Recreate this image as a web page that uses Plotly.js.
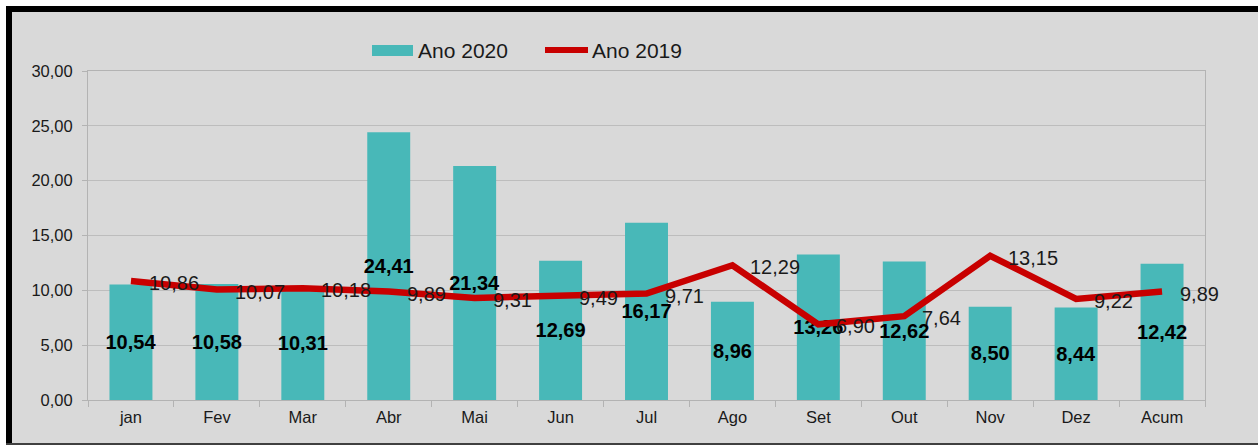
<!DOCTYPE html>
<html>
<head>
<meta charset="utf-8">
<script src="https://cdn.plot.ly/plotly-3.0.1.min.js"></script>
<style>
  html, body { margin: 0; padding: 0; background: #ffffff; overflow: hidden; }
  #wrap { position: relative; width: 1258px; height: 446px; overflow: hidden; }
  #chart { position: absolute; left: 0; top: 0; width: 1258px; height: 446px; }
  .ov { position: absolute; pointer-events: none; }
</style>
</head>
<body>
<div id="wrap">
  <div id="chart"></div>
  <div class="ov" style="left:0;top:0;width:1258px;height:6px;background:#fff;"></div>
  <div class="ov" style="left:0;top:0;width:6px;height:446px;background:#fff;"></div>
  <div class="ov" style="left:6px;top:6px;width:1252px;height:6px;background:#000;"></div>
  <div class="ov" style="left:6px;top:6px;width:6px;height:440px;background:#000;"></div>
  <div class="ov" style="left:6px;top:443px;width:1252px;height:2px;background:#404040;"></div>
  <div class="ov" style="left:0;top:445px;width:1258px;height:1px;background:#fff;"></div>
</div>
<script>
const categories = ["jan", "Fev", "Mar", "Abr", "Mai", "Jun", "Jul", "Ago", "Set", "Out", "Nov", "Dez", "Acum"];
const ano2020 = [10.54, 10.58, 10.31, 24.41, 21.34, 12.69, 16.17, 8.96, 13.26, 12.62, 8.50, 8.44, 12.42];
const ano2019 = [10.86, 10.07, 10.18, 9.89, 9.31, 9.49, 9.71, 12.29, 6.90, 7.64, 13.15, 9.22, 9.89];
const yTicks = [0, 5, 10, 15, 20, 25, 30];
const legendNames = ["Ano 2020", "Ano 2019"];

const FONT = "Liberation Sans, Arial, sans-serif";
const BAR_COLOR = "#48b8b8";
const LINE_COLOR = "#c80000";
const fmt = v => v.toFixed(2).replace(".", ",");

const bars = {
  type: "bar",
  x: categories,
  y: ano2020,
  name: legendNames[0],
  marker: { color: BAR_COLOR },
  texttemplate: "%{y:.2f}",
  textposition: "inside",
  insidetextanchor: "middle",
  textangle: 0,
  constraintext: "none",
  textfont: { family: FONT, size: 20, color: "#000000", weight: "bold" },
  cliponaxis: false,
  showlegend: false
};

const line = {
  type: "scatter",
  mode: "lines",
  x: categories,
  y: ano2019,
  name: legendNames[1],
  line: { color: LINE_COLOR, width: 6.5 },
  cliponaxis: false,
  showlegend: false
};

const lineLabels = categories.map((c, i) => ({
  x: c, y: ano2019[i], xref: "x", yref: "y",
  text: fmt(ano2019[i]),
  showarrow: false, xanchor: "left", yanchor: "middle",
  xshift: 16, yshift: -2,
  font: { family: FONT, size: 20, color: "#1a1a1a" }
}));

// custom legend (plot area: l=88, r=53 -> width 1117; t=71, b=46 -> height 329)
const px = x => (x - 88) / 1117;
const py = y => (400 - y) / 329;

const legendAnn = [
  { x: px(416), y: py(50), xref: "paper", yref: "paper", text: legendNames[0], showarrow: false,
    xanchor: "left", yanchor: "middle", font: { family: FONT, size: 21, color: "#1a1a1a" } },
  { x: px(590), y: py(50), xref: "paper", yref: "paper", text: legendNames[1], showarrow: false,
    xanchor: "left", yanchor: "middle", font: { family: FONT, size: 21, color: "#1a1a1a" } }
];

const shapes = [
  { type: "rect", xref: "paper", yref: "paper", x0: px(372), x1: px(413), y0: py(56), y1: py(45),
    fillcolor: BAR_COLOR, line: { width: 0 } },
  { type: "line", xref: "paper", yref: "paper", x0: px(545), x1: px(588), y0: py(50), y1: py(50),
    line: { color: LINE_COLOR, width: 6 } }
];

const layout = {
  width: 1258, height: 446,
  autosize: false,
  margin: { l: 88, r: 53, t: 71, b: 46, pad: 0, autoexpand: false },
  paper_bgcolor: "#d9d9d9",
  plot_bgcolor: "#d9d9d9",
  separators: ",.",
  font: { family: FONT, color: "#1a1a1a" },
  bargap: 0.5,
  showlegend: false,
  hovermode: false,
  xaxis: {
    type: "category",
    range: [-0.5, 12.5],
    autorange: false,
    automargin: false,
    tickson: "boundaries",
    ticks: "outside", ticklen: 6, tickcolor: "#b3b3b3", tickwidth: 1,
    showgrid: false,
    showline: true, linecolor: "#b3b3b3", linewidth: 1, mirror: true,
    tickfont: { family: FONT, size: 16.5, color: "#1a1a1a" },
    ticklabelstandoff: 2,
    fixedrange: true
  },
  yaxis: {
    range: [0, 30],
    autorange: false,
    automargin: false,
    tickvals: yTicks,
    tickformat: ".2f",
    ticks: "outside", ticklen: 5, tickcolor: "#b3b3b3",
    showgrid: true, gridcolor: "#bdbdbd", gridwidth: 1,
    zeroline: false,
    showline: true, linecolor: "#b3b3b3", linewidth: 1, mirror: true,
    tickfont: { family: FONT, size: 16.5, color: "#1a1a1a" },
    ticklabelstandoff: 6,
    fixedrange: true
  },
  annotations: lineLabels.concat(legendAnn),
  shapes: shapes
};

Plotly.newPlot("chart", [bars, line], layout, { displayModeBar: false, staticPlot: true });
</script>
</body>
</html>
